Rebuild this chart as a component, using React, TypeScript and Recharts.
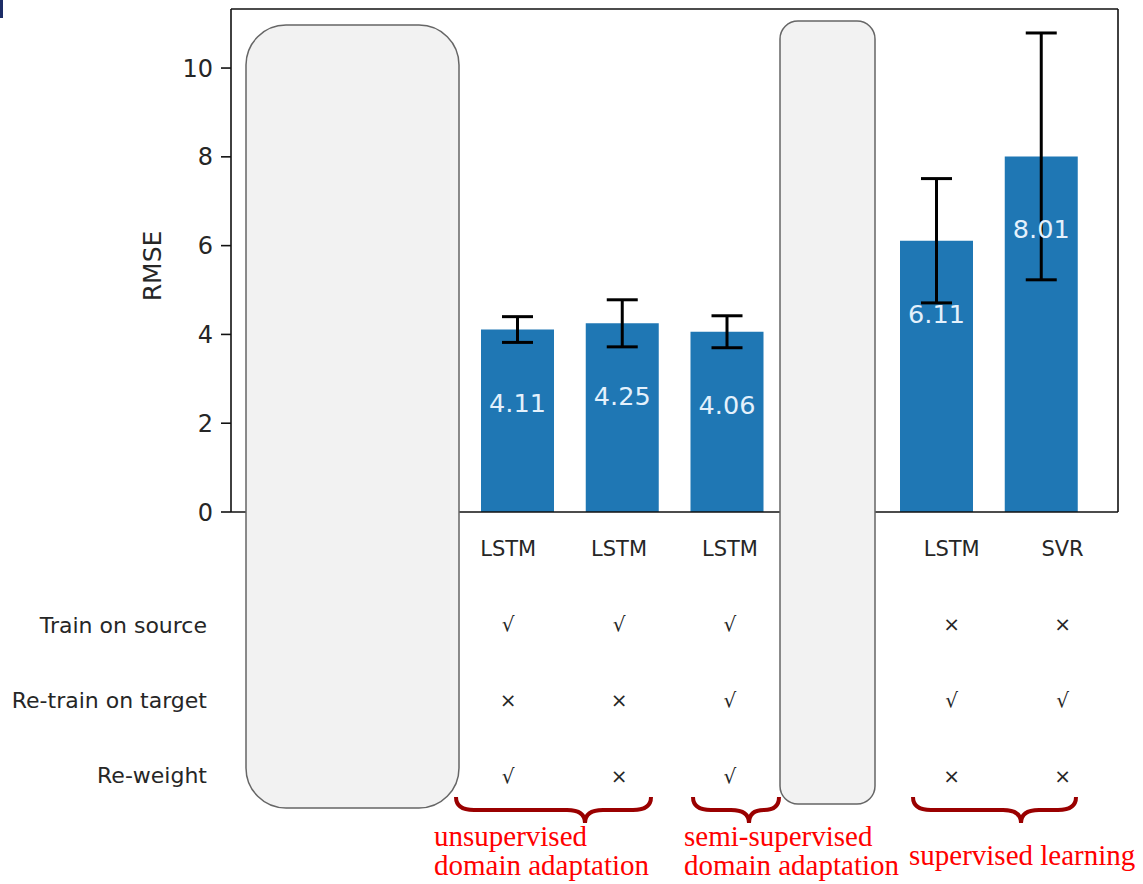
import { BarChart, Bar, XAxis, YAxis, ErrorBar, LabelList, Label } from "recharts"

// slot order follows the original figure; slots 0, 1 and 5 sit under the grey masks
const models = ["", "", "LSTM", "LSTM", "LSTM", "", "LSTM", "SVR"]
const rmse = [null, null, 4.11, 4.25, 4.06, null, 6.11, 8.01]
const rmseErr = [null, null, 0.29, 0.53, 0.36, null, 1.4, 2.78]
const trainOnSource = ["", "", "√", "√", "√", "", "×", "×"]
const retrainOnTarget = ["", "", "×", "×", "√", "", "√", "√"]
const reweight = ["", "", "√", "×", "√", "", "×", "×"]
const rowLabels = ["Train on source", "Re-train on target", "Re-weight"]
const yTicks = [0, 2, 4, 6, 8, 10]

const data = models.map((m, i) => ({
  slot: String(i),
  model: m,
  rmse: rmse[i],
  err: rmseErr[i],
  rows: [trainOnSource[i], retrainOnTarget[i], reweight[i]],
}))

const FONT = "'DejaVu Sans', sans-serif"
const TEXT = "#262626"
const SPINE = "#111"
const BRACE = "#9a0000"

// table cells: one column per slot, evenly spread across the plot width
const TableTick = (props: any) => {
  const { x, y, payload } = props
  const d = data[Number(payload.value)]
  if (!d) return null
  return (
    <g>
      <text x={x} y={y + 36} textAnchor="middle" dominantBaseline="central" fontSize={21} fill={TEXT} fontFamily={FONT}>
        {d.model}
      </text>
      {d.rows.map((r, k) => (
        <text key={k} x={x} y={y + 111 + k * 76} textAnchor="middle" dominantBaseline="central" fontSize={20} fill={TEXT} fontFamily={FONT}>
          {r}
        </text>
      ))}
    </g>
  )
}

const ValueLabel = (props: any) => {
  const { x, y, width, value } = props
  if (value == null) return null
  return (
    <text x={x + width / 2} y={y + 73} textAnchor="middle" dominantBaseline="central" fontSize={25.5} fill="#e4f1fc" fontFamily={FONT}>
      {value.toFixed(2)}
    </text>
  )
}

const brace = (x1: number, xt: number, x2: number) => {
  const top = 797
  const mid = 810
  const tip = 823
  const rl = Math.min(18, (xt - x1) / 2)
  const rr = Math.min(18, (x2 - xt) / 2)
  return `M ${x1} ${top} Q ${x1} ${mid} ${x1 + rl} ${mid} L ${xt - rl} ${mid} Q ${xt} ${mid} ${xt} ${tip} Q ${xt} ${mid} ${xt + rr} ${mid} L ${x2 - rr} ${mid} Q ${x2} ${mid} ${x2} ${top}`
}

export default function App() {
  return (
    <div style={{ position: "absolute", left: 0, top: 0, width: 1143, height: 884, background: "#fff", overflow: "hidden" }}>
      <BarChart
        width={1143}
        height={884}
        data={data}
        margin={{ top: 8, right: 24, left: 151, bottom: 72 }}
      >
        <XAxis
          dataKey="slot"
          type="category"
          height={1}
          padding={{ left: 24.5, right: 24.5 }}
          axisLine={{ stroke: SPINE, strokeWidth: 1.6 }}
          tickLine={false}
          tick={false}
        />
        <XAxis
          xAxisId="table"
          dataKey="slot"
          type="category"
          height={299}
          axisLine={false}
          tickLine={false}
          tickSize={0}
          tickMargin={0}
          interval={0}
          tick={<TableTick />}
        />
        <XAxis xAxisId="top" dataKey="slot" orientation="top" height={1} tick={false} tickLine={false} axisLine={{ stroke: SPINE, strokeWidth: 1.6 }} />
        <YAxis
          domain={[0, 11.33]}
          ticks={yTicks}
          width={80}
          axisLine={{ stroke: SPINE, strokeWidth: 1.6 }}
          tickLine={{ stroke: SPINE, strokeWidth: 1.6 }}
          tickSize={10}
          tickMargin={8}
          tick={{ fill: TEXT, fontSize: 24, fontFamily: FONT }}
        >
          <Label
            content={({ viewBox }: any) => {
              const cx = viewBox.x + 1
              const cy = 266
              return (
                <text x={cx} y={cy} transform={`rotate(-90 ${cx} ${cy})`} textAnchor="middle" dominantBaseline="central" fontSize={25} fill={TEXT} fontFamily={FONT}>
                  RMSE
                </text>
              )
            }}
          />
        </YAxis>
        <YAxis yAxisId="right" orientation="right" width={1} domain={[0, 11.33]} tick={false} tickLine={false} axisLine={{ stroke: SPINE, strokeWidth: 1.6 }} />
        <Bar dataKey="rmse" fill="#1f77b4" barSize={73} isAnimationActive={false}>
          <ErrorBar dataKey="err" direction="y" stroke="#000" strokeWidth={3} width={15.5} />
          <LabelList dataKey="rmse" content={<ValueLabel />} />
        </Bar>
      </BarChart>

      <svg width={1143} height={884} style={{ position: "absolute", left: 0, top: 0, pointerEvents: "none" }}>
        <rect x={0} y={0} width={3} height={18} fill="#1c2d66" />
        {rowLabels.map((r, k) => (
          <text key={r} x={207} y={625 + k * 75} textAnchor="end" dominantBaseline="central" fontSize={22} fill={TEXT} fontFamily={FONT}>
            {r}
          </text>
        ))}
        <rect x={246} y={25} width={213} height={783} rx={40} ry={40} fill="#f2f2f2" stroke="#666" strokeWidth={1.5} />
        <rect x={780} y={21} width={95} height={783} rx={18} ry={18} fill="#f2f2f2" stroke="#666" strokeWidth={1.5} />
        <g fill="none" stroke={BRACE} strokeWidth={4}>
          <path d={brace(456, 585, 651)} />
          <path d={brace(693, 749, 779)} />
          <path d={brace(913, 1021, 1076)} />
        </g>
        <g fontFamily="'Liberation Serif', serif" fontSize={29} fill="#ff0000">
          <text x={434} y={846}>unsupervised</text>
          <text x={434} y={875}>domain adaptation</text>
          <text x={684} y={846}>semi-supervised</text>
          <text x={684} y={875}>domain adaptation</text>
          <text x={909} y={865}>supervised learning</text>
        </g>
      </svg>
    </div>
  )
}
